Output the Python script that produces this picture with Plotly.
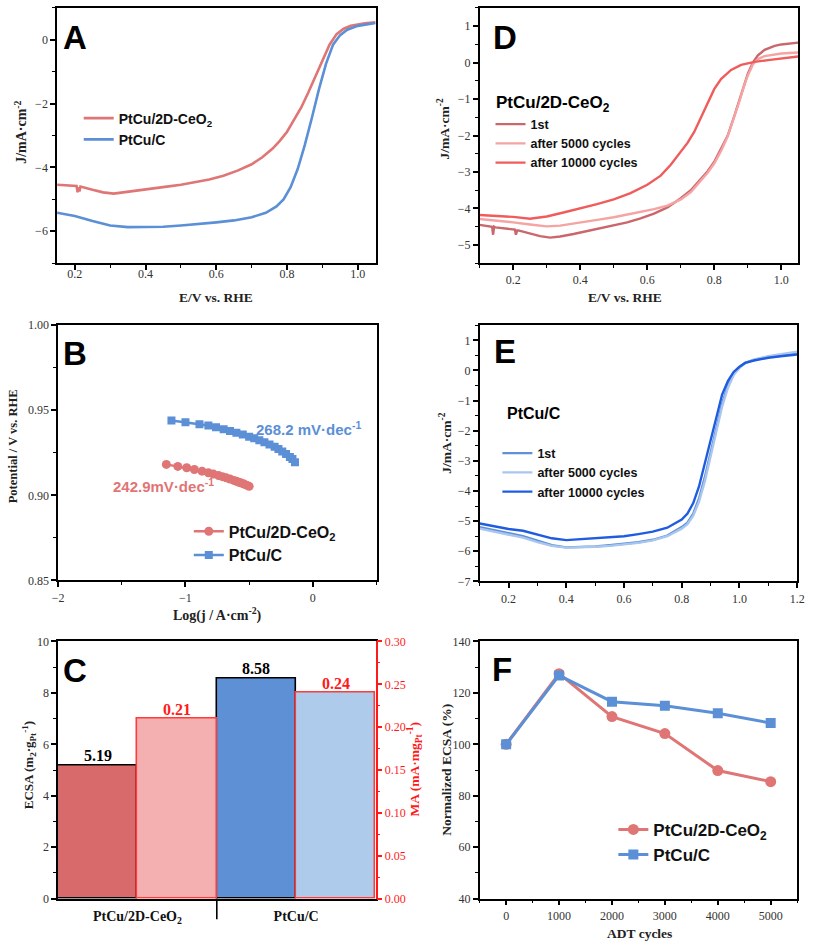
import plotly.graph_objects as go

W, H = 813, 948

# ---------------- DATA ----------------
# Panel A: LSV
a_red_x = [0.15, 0.18, 0.205, 0.208, 0.21, 0.213, 0.216, 0.25, 0.28, 0.31, 0.34, 0.38, 0.42, 0.46, 0.50, 0.54, 0.58, 0.62,
           0.66, 0.70, 0.73, 0.76, 0.78, 0.80, 0.82, 0.84, 0.86, 0.88, 0.90, 0.92, 0.94, 0.96, 0.98, 1.00, 1.02, 1.05]
a_red_y = [-4.54, -4.56, -4.58, -4.78, -4.62, -4.75, -4.60, -4.70, -4.78, -4.82, -4.78, -4.72, -4.67, -4.60, -4.54, -4.47,
           -4.38, -4.26, -4.10, -3.90, -3.68, -3.40, -3.16, -2.88, -2.52, -2.12, -1.65, -1.15, -0.62, -0.15, 0.18, 0.35,
           0.44, 0.49, 0.52, 0.55]
a_blue_x = [0.15, 0.2, 0.25, 0.3, 0.35, 0.4, 0.45, 0.5, 0.55, 0.6, 0.65, 0.7, 0.74, 0.77, 0.79, 0.81, 0.83, 0.85, 0.87,
            0.89, 0.91, 0.93, 0.95, 0.97, 1.0, 1.03, 1.05]
a_blue_y = [-5.42, -5.52, -5.68, -5.82, -5.87, -5.86, -5.86, -5.82, -5.78, -5.72, -5.66, -5.56, -5.42, -5.22, -5.0, -4.62,
            -4.05, -3.3, -2.45, -1.55, -0.75, -0.15, 0.15, 0.32, 0.44, 0.5, 0.53]

# Panel B: Tafel
b_red_x = [-1.15, -1.06, -0.99, -0.93, -0.87, -0.82, -0.78, -0.74, -0.71, -0.68, -0.65, -0.62, -0.60, -0.58, -0.56,
           -0.54, -0.52, -0.50]
b_red_y = [0.9182, 0.9170, 0.9162, 0.9152, 0.9142, 0.9133, 0.9125, 0.9116, 0.9110, 0.9103, 0.9096, 0.9088, 0.9083,
           0.9077, 0.9072, 0.9066, 0.9060, 0.9053]
b_blue_x = [-1.11, -1.0, -0.89, -0.82, -0.76, -0.70, -0.65, -0.60, -0.55, -0.50, -0.46, -0.42, -0.38, -0.34, -0.30,
            -0.27, -0.24, -0.21, -0.18, -0.16, -0.14]
b_blue_y = [0.9440, 0.9430, 0.9418, 0.9410, 0.9400, 0.9388, 0.9378, 0.9368, 0.9357, 0.9345, 0.9335, 0.9324, 0.9312,
            0.9299, 0.9285, 0.9272, 0.9258, 0.9243, 0.9226, 0.9213, 0.9195]

# Panel C: bars
c_categories = ["PtCu/2D-CeO<sub>2</sub>", "PtCu/C"]
c_ecsa = [5.19, 8.58]
c_ma = [0.21, 0.24]

# Panel D: PtCu/2D-CeO2 ADT
d1_x = [0.1, 0.13, 0.137, 0.14, 0.143, 0.147, 0.17, 0.2, 0.205, 0.208, 0.212, 0.215, 0.25, 0.28, 0.31, 0.34, 0.38, 0.42,
        0.46, 0.5, 0.54, 0.58, 0.62, 0.66, 0.7, 0.73, 0.76, 0.78, 0.8, 0.82, 0.84, 0.86, 0.875, 0.89, 0.9, 0.915, 0.93,
        0.95, 0.98, 1.0, 1.05]
d1_y = [-4.45, -4.48, -4.5, -4.72, -4.5, -4.52, -4.54, -4.57, -4.58, -4.72, -4.6, -4.6, -4.68, -4.76, -4.8, -4.77, -4.7,
        -4.62, -4.55, -4.47, -4.38, -4.27, -4.14, -3.97, -3.72, -3.5, -3.2, -2.98, -2.72, -2.38, -2.0, -1.45, -1.0,
        -0.55, -0.3, 0.0, 0.2, 0.35, 0.46, 0.5, 0.55]
d2_x = [0.1, 0.15, 0.2, 0.25, 0.3, 0.34, 0.38, 0.42, 0.46, 0.5, 0.54, 0.58, 0.62, 0.66, 0.7, 0.73, 0.76, 0.78, 0.8, 0.82,
        0.84, 0.86, 0.875, 0.89, 0.9, 0.915, 0.93, 0.95, 0.98, 1.0, 1.05]
d2_y = [-4.29, -4.33, -4.38, -4.44, -4.49, -4.47, -4.42, -4.36, -4.3, -4.24, -4.17, -4.1, -4.02, -3.92, -3.75, -3.55,
        -3.25, -3.02, -2.76, -2.42, -2.02, -1.5, -1.05, -0.6, -0.35, -0.05, 0.1, 0.18, 0.23, 0.25, 0.28]
d3_x = [0.1, 0.15, 0.2, 0.25, 0.3, 0.35, 0.4, 0.45, 0.5, 0.55, 0.6, 0.64, 0.67, 0.7, 0.72, 0.74, 0.76, 0.78, 0.8, 0.82,
        0.85, 0.88, 0.92, 0.96, 1.0, 1.05]
d3_y = [-4.18, -4.2, -4.23, -4.28, -4.22, -4.11, -4.0, -3.88, -3.75, -3.58, -3.35, -3.1, -2.8, -2.45, -2.2, -1.9, -1.5,
        -1.08, -0.72, -0.45, -0.2, -0.06, 0.02, 0.07, 0.11, 0.17]

# Panel E: PtCu/C ADT
e1_x = [0.1, 0.15, 0.2, 0.25, 0.3, 0.35, 0.4, 0.45, 0.5, 0.55, 0.6, 0.65, 0.7, 0.75, 0.8, 0.82, 0.84, 0.86, 0.88, 0.9,
        0.92, 0.94, 0.96, 0.98, 1.0, 1.02, 1.05, 1.1, 1.15, 1.2]
e1_y = [-5.2, -5.3, -5.4, -5.5, -5.65, -5.8, -5.87, -5.86, -5.84, -5.8, -5.76, -5.7, -5.62, -5.48, -5.2, -5.05, -4.75,
        -4.25, -3.55, -2.75, -1.9, -1.1, -0.5, -0.1, 0.1, 0.25, 0.35, 0.45, 0.52, 0.6]
e2_x = [0.1, 0.15, 0.2, 0.25, 0.3, 0.35, 0.4, 0.45, 0.5, 0.55, 0.6, 0.65, 0.7, 0.75, 0.8, 0.82, 0.84, 0.86, 0.88, 0.9,
        0.92, 0.94, 0.96, 0.98, 1.0, 1.02, 1.05, 1.1, 1.15, 1.2]
e2_y = [-5.25, -5.35, -5.45, -5.55, -5.7, -5.82, -5.88, -5.87, -5.85, -5.82, -5.78, -5.72, -5.64, -5.5, -5.25, -5.1,
        -4.82, -4.35, -3.68, -2.88, -2.02, -1.2, -0.58, -0.15, 0.08, 0.24, 0.36, 0.47, 0.55, 0.62]
e3_x = [0.1, 0.15, 0.2, 0.25, 0.3, 0.35, 0.4, 0.45, 0.5, 0.55, 0.6, 0.65, 0.7, 0.75, 0.8, 0.82, 0.84, 0.86, 0.88, 0.9,
        0.92, 0.94, 0.96, 0.98, 1.0, 1.02, 1.05, 1.1, 1.15, 1.2]
e3_y = [-5.08, -5.18, -5.26, -5.32, -5.45, -5.57, -5.63, -5.6, -5.58, -5.55, -5.5, -5.43, -5.35, -5.22, -4.95, -4.75,
        -4.4, -3.85, -3.1, -2.3, -1.5, -0.8, -0.35, -0.05, 0.12, 0.25, 0.33, 0.42, 0.48, 0.53]

# Panel F: normalized ECSA
f_cycles = [0, 1000, 2000, 3000, 4000, 5000]
f_red = [100, 127.5, 110.8, 104.2, 89.8, 85.5]
f_blue = [100, 126.8, 116.6, 115.0, 112.1, 108.3]

# ---------------- STYLE ----------------
RED = "#E07575"
BLUE = "#5B8FD6"
MA_RED = "#FF1A1A"
SERIF = "Liberation Serif"
SANS = "Liberation Sans"


def xd(l, r):
    return [l / W, r / W]


def yd(t, b):
    return [1 - b / H, 1 - t / H]


def axis(domain, anchor, rng, dtick, minor_dtick, tick0=0, color="black", side=None, standoff=0, fmt=None):
    d = dict(domain=domain, anchor=anchor, range=rng, dtick=dtick, tick0=tick0, showgrid=False, zeroline=False,
             showline=True, linecolor=color, linewidth=1.6, mirror=True, ticks="outside", ticklen=5,
             tickwidth=1.5, tickcolor=color, ticklabelstandoff=standoff,
             tickfont=dict(family=SERIF, size=12, color="#333333" if color == "black" else color),
             minor=dict(ticks="outside", ticklen=3, tickwidth=1.3, tickcolor=color, dtick=minor_dtick, tick0=tick0,
                        showgrid=False))
    if side:
        d["side"] = side
    if fmt:
        d["tickformat"] = fmt
    return d


fig = go.Figure()

# Panel A
fig.add_trace(go.Scatter(x=a_red_x, y=a_red_y, mode="lines", line=dict(color=RED, width=2.6),
                         name="PtCu/2D-CeO<sub>2</sub>", xaxis="x", yaxis="y", legend="legend"))
fig.add_trace(go.Scatter(x=a_blue_x, y=a_blue_y, mode="lines", line=dict(color=BLUE, width=2.6),
                         name="PtCu/C", xaxis="x", yaxis="y", legend="legend"))

# Panel D
fig.add_trace(go.Scatter(x=d1_x, y=d1_y, mode="lines", line=dict(color="#C9676C", width=2.4),
                         name="1st", xaxis="x2", yaxis="y2", legend="legend3"))
fig.add_trace(go.Scatter(x=d2_x, y=d2_y, mode="lines", line=dict(color="#F5A3A3", width=2.4),
                         name="after 5000 cycles", xaxis="x2", yaxis="y2", legend="legend3"))
fig.add_trace(go.Scatter(x=d3_x, y=d3_y, mode="lines", line=dict(color="#F05C5C", width=2.4),
                         name="after 10000 cycles", xaxis="x2", yaxis="y2", legend="legend3"))

# Panel B
fig.add_trace(go.Scatter(x=b_red_x, y=b_red_y, mode="lines+markers", line=dict(color=RED, width=2.5),
                         marker=dict(symbol="circle", size=9, color=RED),
                         name="PtCu/2D-CeO<sub>2</sub>", xaxis="x3", yaxis="y3", legend="legend2"))
fig.add_trace(go.Scatter(x=b_blue_x, y=b_blue_y, mode="lines+markers", line=dict(color=BLUE, width=2.5),
                         marker=dict(symbol="square", size=8, color=BLUE),
                         name="PtCu/C", xaxis="x3", yaxis="y3", legend="legend2"))

# Panel E
fig.add_trace(go.Scatter(x=e1_x, y=e1_y, mode="lines", line=dict(color="#5F91D7", width=2.4),
                         name="1st", xaxis="x4", yaxis="y4", legend="legend4"))
fig.add_trace(go.Scatter(x=e2_x, y=e2_y, mode="lines", line=dict(color="#A9C6EE", width=2.4),
                         name="after 5000 cycles", xaxis="x4", yaxis="y4", legend="legend4"))
fig.add_trace(go.Scatter(x=e3_x, y=e3_y, mode="lines", line=dict(color="#1F5CE0", width=2.4),
                         name="after 10000 cycles", xaxis="x4", yaxis="y4", legend="legend4"))

# Panel C: bars (ECSA left axis, MA right axis)
ecsa_pos = [0.5, 2.5]
ma_pos = [1.5, 3.5]
fig.add_trace(go.Bar(x=ecsa_pos, y=c_ecsa, width=1, marker=dict(color=["#D96A6C", "#5E90D6"],
                                                                 line=dict(color="black", width=1.6)),
                     xaxis="x5", yaxis="y5", showlegend=False))
fig.add_trace(go.Bar(x=ma_pos, y=c_ma, width=1, marker=dict(color=["#F4B0B0", "#AECBEC"],
                                                            line=dict(color="#FF3B3B", width=1.6)),
                     xaxis="x5", yaxis="y6", showlegend=False))
for pos, v in zip(ecsa_pos, c_ecsa):
    fig.add_annotation(x=pos, y=v, xref="x5", yref="y5", text="<b>%.2f</b>" % v, yanchor="bottom",
                       showarrow=False, borderpad=0, font=dict(family=SERIF, size=16, color="black"))
for pos, v in zip(ma_pos, c_ma):
    fig.add_annotation(x=pos, y=v, xref="x5", yref="y6", text="<b>%.2f</b>" % v, yanchor="bottom",
                       showarrow=False, borderpad=0, font=dict(family=SERIF, size=16, color=MA_RED))

# Panel F
fig.add_trace(go.Scatter(x=f_cycles, y=f_red, mode="lines+markers", line=dict(color=RED, width=3),
                         marker=dict(symbol="circle", size=11, color=RED),
                         name="PtCu/2D-CeO<sub>2</sub>", xaxis="x6", yaxis="y7", legend="legend5"))
fig.add_trace(go.Scatter(x=f_cycles, y=f_blue, mode="lines+markers", line=dict(color=BLUE, width=3),
                         marker=dict(symbol="square", size=10, color=BLUE),
                         name="PtCu/C", xaxis="x6", yaxis="y7", legend="legend5"))

layout = dict(
    width=W, height=H, margin=dict(l=0, r=0, t=0, b=0), paper_bgcolor="white", plot_bgcolor="white",
    bargap=0, barmode="overlay",
    # A
    xaxis=axis(xd(52, 376), "y", [0.15, 1.05], 0.2, 0.1, standoff=-6, fmt=".1f"),
    yaxis=axis(yd(1, 260), "x", [-7, 1], 2, 1),
    # D
    xaxis2=axis(xd(482, 806), "y2", [0.1, 1.05], 0.2, 0.1, fmt=".1f"),
    yaxis2=axis(yd(1, 260), "x2", [-5.5, 1.5], 1, 0.5),
    # B
    xaxis3=axis(xd(53, 377), "y3", [-2, 0.5], 1, 0.5),
    yaxis3=axis(yd(323, 582), "x3", [0.85, 1.0], 0.05, 0.025, tick0=0.85, fmt=".2f"),
    # E
    xaxis4=axis(xd(482, 805), "y4", [0.1, 1.2], 0.2, 0.1, fmt=".1f"),
    yaxis4=axis(yd(323, 583), "x4", [-7, 1.5], 1, 0.5),
    # C
    xaxis5=dict(domain=xd(53, 376), anchor="y5", range=[0, 4], showgrid=False, zeroline=False, showline=True,
                linecolor="black", linewidth=1.6, mirror=True, ticks="", tickvals=[1, 3], ticktext=[
                    "<b>" + c + "</b>" for c in c_categories], ticklabelstandoff=4,
                tickfont=dict(family=SERIF, size=14, color="#111111")),
    yaxis5=axis(yd(644, 905), "x5", [0, 10], 2, 1),
    yaxis6=axis(yd(644, 905), "x5", [0, 0.30], 0.05, 0.025, color=MA_RED, side="right", fmt=".2f"),
    # F
    xaxis6=axis(xd(482, 805), "y7", [-500, 5500], 1000, 500),
    yaxis7=axis(yd(644, 905), "x6", [40, 140], 20, 10),
)
layout["yaxis6"]["overlaying"] = "y5"
layout["yaxis6"]["mirror"] = False


def legend(x_px, y_px, size):
    return dict(x=x_px / W, y=1 - y_px / H, xanchor="left", yanchor="top", bgcolor="rgba(0,0,0,0)",
                borderwidth=0, font=dict(family=SANS, size=size, color="#111111", weight="bold"),
                itemclick=False, itemdoubleclick=False)


layout["legend"] = legend(74, 97, 14)
layout["legend2"] = legend(186, 515, 16)
layout["legend3"] = legend(493, 104, 12.5)
layout["legend4"] = legend(500, 438, 12.5)
layout["legend5"] = legend(618, 817, 17)

fig.update_layout(**layout)

# divider between categories in panel C
fig.add_shape(type="line", xref="x5", yref="paper", x0=2, x1=2, y0=1 - 926 / H, y1=1 - 905 / H,
              line=dict(color="black", width=1.6))


def note(text, x_px, y_px, size, color="black", family=SANS, angle=0, xanchor="left"):
    fig.add_annotation(text=text, x=x_px / W, y=1 - y_px / H, xref="paper", yref="paper",
                       xanchor=xanchor, yanchor="middle", showarrow=False, textangle=angle,
                       font=dict(family=family, size=size, color=color))


# panel letters
for letter, x_px, y_px in [("A", 56, 31), ("D", 493, 31), ("B", 56, 352), ("E", 495, 350), ("C", 56, 673),
                           ("F", 492, 672)]:
    note("<b>%s</b>" % letter, x_px, y_px, 33)

# axis titles
TC = "#222222"
note("<b>E/V vs. RHE</b>", 214, 295, 13.5, TC, SERIF, xanchor="center")
note("<b>E/V vs. RHE</b>", 630, 295, 13.5, TC, SERIF, xanchor="center")
note("<b>Log(j / A·cm<sup>-2</sup>)</b>", 215, 617, 14, TC, SERIF, xanchor="center")
note("<b>ADT cycles</b>", 645, 940, 13.5, TC, SERIF, xanchor="center")
note("<b>J/mA·cm<sup>-2</sup></b>", 15, 127, 14, TC, SERIF, -90, xanchor="center")
note("<b>J/mA·cm<sup>-2</sup></b>", 445, 124, 13.5, TC, SERIF, -90, xanchor="center")
note("<b>Potential / V vs. RHE</b>", 8, 446, 12.5, TC, SERIF, -90, xanchor="center")
note("<b>J/mA·cm<sup>-2</sup></b>", 447, 443, 13.5, TC, SERIF, -90, xanchor="center")
note("<b>ECSA (m<sub>2</sub>·g<sub>Pt</sub><sup>-1</sup>)</b>", 23, 770, 13, TC, SERIF, -90, xanchor="center")
note("<b>MA (mA·mg<sub>Pt</sub><sup>-1</sup>)</b>", 416, 774, 13.5, MA_RED, SERIF, -90, xanchor="center")
note("<b>Normalized ECSA (%)</b>", 448, 774, 13.5, TC, SERIF, -90, xanchor="center")

# panel D / E titles
note("<b>PtCu/2D-CeO<sub>2</sub></b>", 497, 98, 17)
note("<b>PtCu/C</b>", 508, 413, 16)

# Tafel slopes
note("<b>268.2 mV·dec<sup>-1</sup></b>", 252, 428, 15, BLUE)
note("<b>242.9mV·dec<sup>-1</sup></b>", 107, 486, 15, RED)

fig.write_html("out.html", config={"displayModeBar": False},
               post_script="document.body.style.margin='0px';document.body.style.overflow='hidden';")
